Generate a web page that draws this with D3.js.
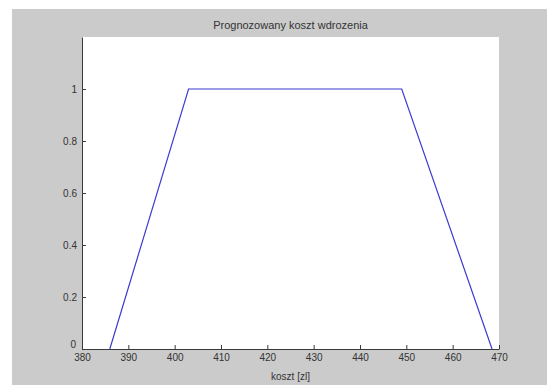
<!DOCTYPE html>
<html><head><meta charset="utf-8">
<script src="https://cdn.jsdelivr.net/npm/d3@7"></script>
<style>body{margin:0;background:#fff}svg{display:block}text{font-family:"Liberation Sans",Arial,sans-serif}</style>
</head><body>
<script>
const xValues = [386, 403, 449, 468.5];
const yValues = [0, 1, 1, 0];
const xTicks = [380,390,400,410,420,430,440,450,460,470];
const yTicks = [0,0.2,0.4,0.6,0.8,1];
const title = "Prognozowany koszt wdrozenia";
const xLabel = "koszt [zl]";

const W = 547, H = 385;
const m = {left:82, right:48, top:37, bottom:36};
const svg = d3.select("body").append("svg").attr("width", W).attr("height", H);
svg.append("rect").attr("x",12).attr("y",9).attr("width",W-12).attr("height",H-9).attr("fill","#cbcbcb");
const pw = W - m.left - m.right, ph = H - m.top - m.bottom;
const x = d3.scaleLinear().domain([380,470]).range([m.left, m.left+pw]);
const y = d3.scaleLinear().domain([0,1.2]).range([m.top+ph, m.top]);
svg.append("rect").attr("x",m.left).attr("y",m.top).attr("width",pw).attr("height",ph).attr("fill","#fff");

const xa = svg.append("g").attr("transform",`translate(0,${m.top+ph})`)
  .call(d3.axisBottom(x).tickValues(xTicks).tickFormat(d3.format("d")).tickSizeInner(-4).tickSizeOuter(0).tickPadding(5));
const ya = svg.append("g").attr("transform",`translate(${m.left},0)`)
  .call(d3.axisLeft(y).tickValues(yTicks).tickFormat(d=>String(d)).tickSizeInner(-4).tickSizeOuter(0).tickPadding(5));
[xa,ya].forEach(g=>{
  g.selectAll("path,line").attr("stroke","#3a3a3a");
  g.selectAll("text").attr("fill","#333").style("font-size","10px");
});
ya.selectAll(".tick").filter(d=>d===0).select("text").attr("dy","-0.2em").attr("x",-6);

const pts = xValues.map((v,i)=>[v,yValues[i]]);
svg.append("path").attr("d", d3.line().x(d=>x(d[0])).y(d=>y(d[1]))(pts))
  .attr("fill","none").attr("stroke","#3b3bd0").attr("stroke-width",1.2);

svg.append("text").attr("x", m.left+pw/2).attr("y", 29).attr("text-anchor","middle")
  .attr("fill","#333").style("font-size","11px").text(title);
svg.append("text").attr("x", m.left+pw/2).attr("y", 380).attr("text-anchor","middle")
  .attr("fill","#333").style("font-size","10px").text(xLabel);
</script>
</body></html>
